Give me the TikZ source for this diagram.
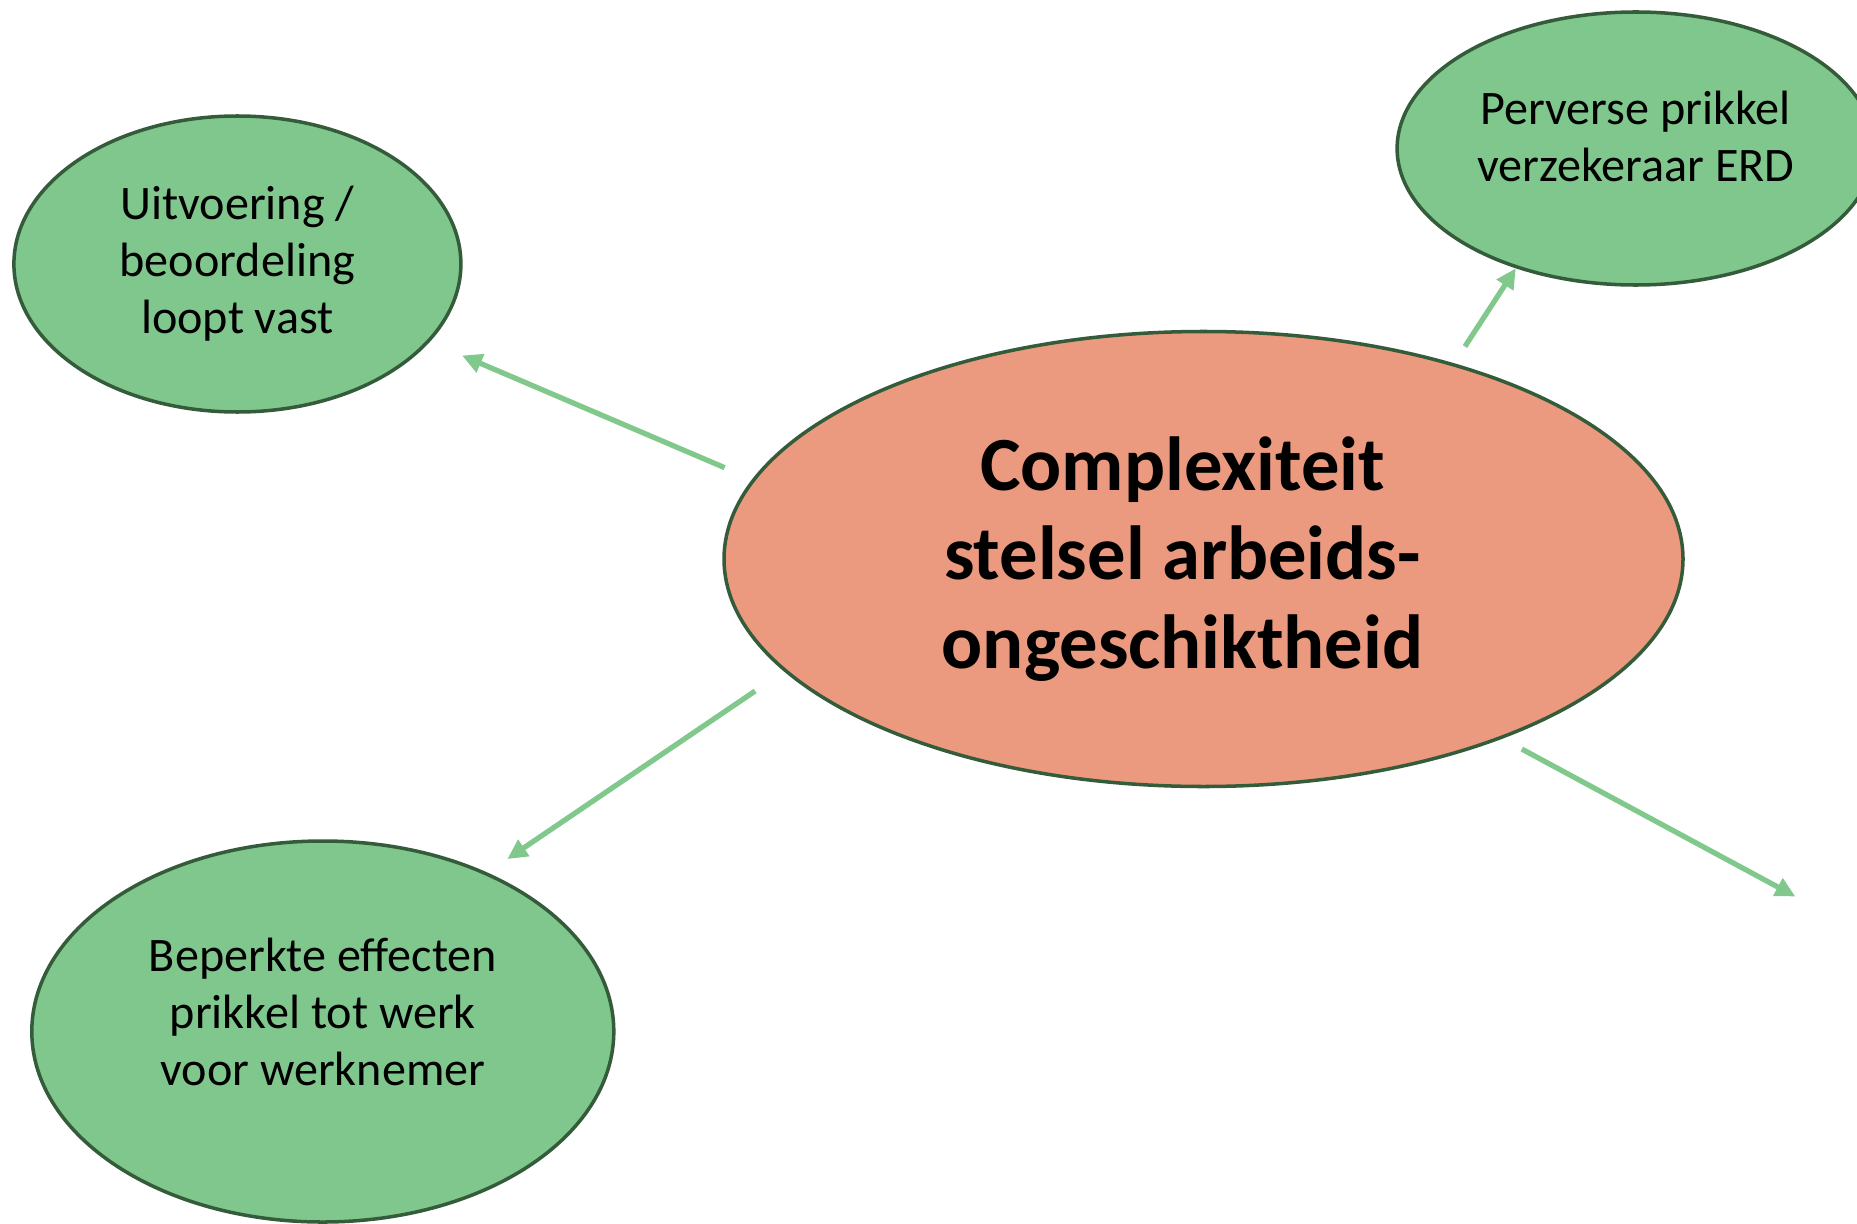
\documentclass[tikz,border=0pt]{standalone}
\usepackage{fontspec}
\setmainfont{Carlito}
\usepackage{tikz}
\usetikzlibrary{shapes.geometric}
\usetikzlibrary{arrows.meta}
\definecolor{groen}{HTML}{80C78D}
\definecolor{donkergroen}{HTML}{345C3A}
\definecolor{zalm}{HTML}{EB9A7F}
\definecolor{pijlgroen}{HTML}{80C88C}
\tikzstyle{gevolg} = [ellipse,draw=donkergroen,line width=1pt,fill=groen,inner sep=0pt,align=center,font=\fontsize{13.7}{16.2}\selectfont]
\tikzstyle{kern} = [ellipse,draw=donkergroen,line width=1pt,fill=zalm,inner sep=0pt,align=center,font=\fontsize{21.8}{25.3}\selectfont\bfseries]
\tikzstyle{arrow} = [line width=1.5pt,draw=pijlgroen,-{Triangle[length=0.2cm,width=0.19cm]}]
\newcommand{\links}{\kern0.42cm}

\begin{document}
\begin{tikzpicture}
  \useasboundingbox (0,0) rectangle (18.57,12.23);
  \node (stelsel) [kern,minimum width=9.59cm,minimum height=4.55cm] at (12.035,6.64)
    {Complexiteit\links\\stelsel arbeids-\links\\ongeschiktheid\links};
  \node (uitvoering) [gevolg,minimum width=4.47cm,minimum height=2.96cm] at (2.374,9.59)
    {Uitvoering /\\beoordeling\\loopt vast};
  \node (pervers) [gevolg,minimum width=4.77cm,minimum height=2.73cm] at (16.356,10.745)
    {Perverse prikkel\\verzekeraar ERD\\[-0.33cm]};
  \node (beperkt) [gevolg,minimum width=5.82cm,minimum height=3.81cm] at (3.228,1.915)
    {Beperkte effecten\\prikkel tot werk\\voor werknemer\\[-0.17cm]};
  \coordinate (leeg) at (17.954,3.265);
  \draw[arrow,shorten <=0.3cm,shorten >=0.35cm] (stelsel.170) -- (uitvoering.-22);
  \draw[arrow,shorten <=0.2cm] (stelsel.38) -- (pervers.225);
  \draw[arrow,shorten <=0.35cm,shorten >=0.24cm] (stelsel.195) -- (beperkt.44);
  \draw[arrow,shorten <=0.22cm] (stelsel.-31) -- (leeg);
\end{tikzpicture}
\end{document}
